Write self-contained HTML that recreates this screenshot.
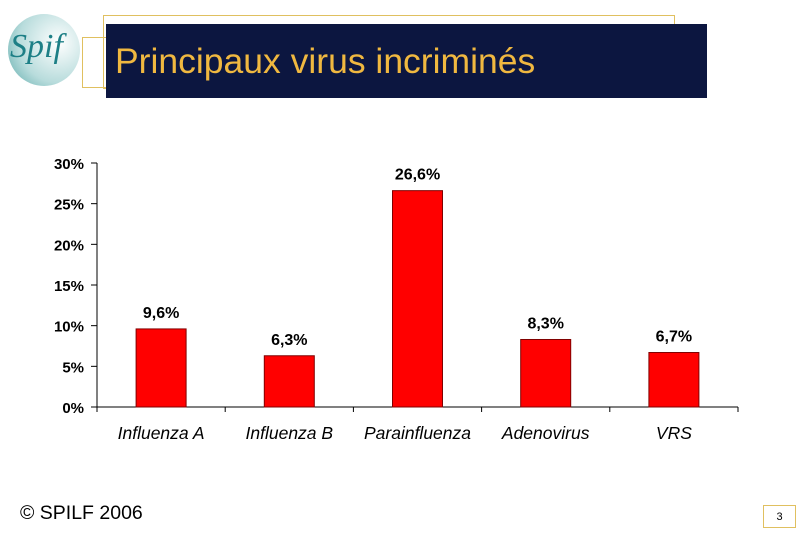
<!DOCTYPE html>
<html><head><meta charset="utf-8"><style>
body{margin:0;width:810px;height:540px;background:#fff;position:relative;overflow:hidden;font-family:"Liberation Sans",sans-serif}
.abs{position:absolute}
</style></head><body>
<div class="abs" style="left:8px;top:14px;width:72px;height:72px;border-radius:50%;background:radial-gradient(circle at 70% 40%,#fff,#b8dcdc 60%,#5aa9a9);"></div>
<div class="abs" style="left:10px;top:28px;font:italic 34px 'Liberation Serif',serif;color:#1d7f86">Spif</div>
<div class="abs" style="left:103px;top:15px;width:570px;height:72px;border:1px solid #e0c060"></div>
<div class="abs" style="left:82px;top:37px;width:26px;height:49px;border:1px solid #e0c060"></div>
<div class="abs" style="left:106px;top:24px;width:601px;height:74px;background:#0c1640"></div>
<div class="abs" style="left:115px;top:41px;font-size:35.5px;color:#f0b840">Principaux virus incriminés</div>
<svg class="abs" style="left:0;top:0" width="810" height="540"><g id="g"></g></svg>
<div class="abs" style="left:20px;top:502px;font-size:19.5px;color:#000">© SPILF 2006</div>
<div class="abs" style="left:763px;top:505px;width:31px;height:21px;border:1px solid #e0c060;font-size:11px;text-align:center;line-height:22px">3</div>
<script>
const categories=["Influenza A","Influenza B","Parainfluenza","Adenovirus","VRS"];
const values=[9.6,6.3,26.6,8.3,6.7];
const labels=["9,6%","6,3%","26,6%","8,3%","6,7%"];
const ticks=[0,5,10,15,20,25,30];
const x0=97,x1=738,yb=407,yt=163;
const y=v=>yb-(v/30)*(yb-yt);
const cw=(x1-x0)/categories.length;
const g=document.getElementById('g');
const ns='http://www.w3.org/2000/svg';
function mk(t,a,txt){const e=document.createElementNS(ns,t);for(const k in a)e.setAttribute(k,a[k]);if(txt!==undefined)e.textContent=txt;g.appendChild(e);return e;}
let e=mk('line',{x1:x0,y1:yt,x2:x0,y2:yb,stroke:'#000'});

e=mk('line',{x1:x0,y1:yb,x2:x1,y2:yb,stroke:'#000'});

ticks.forEach(t=>{
 let l=mk('line',{x1:x0-6,y1:y(t),x2:x0,y2:y(t),stroke:'#000'});
 
 let tx=mk('text',{x:84,y:y(t)+6,'text-anchor':'end','font-size':15,'font-weight':'bold','font-family':'Liberation Sans'},t+'%');
 
});
for(let i=0;i<=categories.length;i++){
 let l=mk('line',{x1:x0+i*cw,y1:yb,x2:x0+i*cw,y2:yb+5,stroke:'#000'});
 
}
categories.forEach((c,i)=>{
 const cx=x0+cw*(i+0.5);
 let b=mk('rect',{x:cx-25,y:y(values[i]),width:50,height:yb-y(values[i]),fill:'#ff0000',stroke:'#800000','stroke-width':1});
 
 let v=mk('text',{x:cx,y:y(values[i])-11,'text-anchor':'middle','font-size':16,'font-weight':'bold','font-family':'Liberation Sans'},labels[i]);
 
 let t=mk('text',{x:cx,y:439,'text-anchor':'middle','font-size':17.5,'font-style':'italic','font-family':'Liberation Sans'},c);
 
});
</script>
</body></html>
